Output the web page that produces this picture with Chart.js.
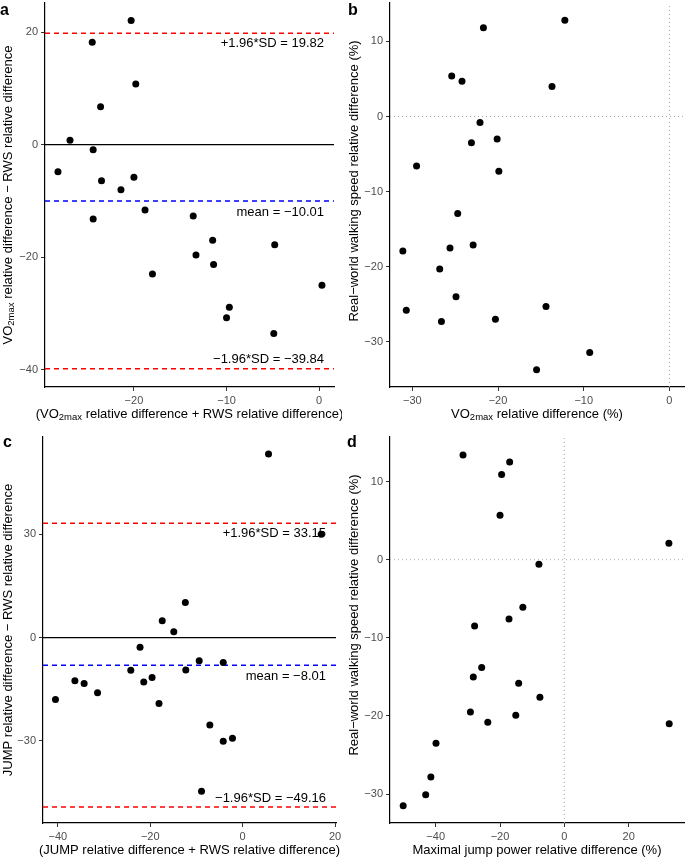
<!DOCTYPE html>
<html>
<head>
<meta charset="utf-8">
<script src="https://cdn.jsdelivr.net/npm/chart.js@4.4.1/dist/chart.umd.min.js"></script>
<style>
  body { margin: 0; background: #fff; width: 685px; height: 860px; position: relative; overflow: hidden; }
  canvas { position: absolute; }
</style>
</head>
<body>
<canvas id="pa" style="left:0;top:0" width="342" height="430"></canvas>
<canvas id="pb" style="left:342px;top:0" width="343" height="430"></canvas>
<canvas id="pc" style="left:0;top:430px" width="342" height="430"></canvas>
<canvas id="pd" style="left:342px;top:430px" width="343" height="430"></canvas>
<script>
// panel a: Bland-Altman, VO2max vs RWS
const aMeanX = [-20.3, -24.5, -19.8, -23.6, -26.9, -24.4, -28.2, -23.5, -20.0, -21.4, -18.8, -24.4, -13.6, -11.5, -4.8, -13.3, -11.4, -18.0, 0.3, -9.7, -10.0, -4.9];
const aDiffY = [22.1, 18.2, 10.8, 6.75, 0.8, -0.9, -4.8, -6.4, -5.8, -8.0, -11.6, -13.2, -12.7, -17.0, -17.8, -19.6, -21.3, -23.0, -25.0, -28.9, -30.8, -33.6];
const aLimits = [19.82, -10.01, -39.84];
const aLimitLabels = ['+1.96*SD = 19.82', 'mean = \u221210.01', '\u22121.96*SD = \u221239.84'];
const aXTicks = [-20, -10, 0];
const aYTicks = [-40, -20, 0, 20];

// panel b: VO2max vs RWS
const bVo2X = [-12.2, -21.7, -25.4, -24.2, -13.7, -22.1, -20.1, -23.1, -29.5, -19.9, -24.7, -22.9, -25.6, -31.1, -26.8, -24.9, -14.4, -30.7, -26.6, -20.3, -9.3, -15.5];
const bRwsY = [12.8, 11.8, 5.4, 4.7, 4.0, -0.8, -3.0, -3.5, -6.6, -7.3, -12.9, -17.1, -17.5, -17.9, -20.3, -24.0, -25.3, -25.8, -27.3, -27.0, -31.4, -33.7];
const bXTicks = [-30, -20, -10, 0];
const bYTicks = [-30, -20, -10, 0, 10];

// panel c: Bland-Altman, JUMP vs RWS
const cMeanX = [5.6, 17.0, -12.4, -17.4, -14.9, -22.2, -9.4, -4.2, -24.2, -12.3, -36.3, -34.3, -21.4, -19.6, -31.4, -40.5, -18.1, -7.1, -4.2, -2.2, -8.9];
const cDiffY = [53.3, 30.0, 10.2, 4.9, 1.7, -2.8, -6.7, -7.2, -9.5, -9.4, -12.5, -13.3, -12.9, -11.6, -16.0, -18.0, -19.1, -25.4, -30.1, -29.2, -44.6];
const cLimits = [33.15, -8.01, -49.16];
const cLimitLabels = ['+1.96*SD = 33.15', 'mean = \u22128.01', '\u22121.96*SD = \u221249.16'];
const cXTicks = [-40, -20, 0, 20];
const cYTicks = [-30, 0, 30];

// panel d: jump power vs RWS
const dJumpX = [-31.5, -17.0, -19.5, -20.0, 32.5, -7.9, -12.9, -17.2, -27.9, -25.7, -28.3, -14.2, -7.6, -29.2, -15.1, -23.8, 32.6, -39.9, -41.5, -43.1, -50.1];
const dRwsY = [13.4, 12.5, 10.9, 5.7, 2.1, -0.6, -6.1, -7.6, -8.5, -13.8, -15.0, -15.8, -17.6, -19.5, -19.9, -20.8, -21.0, -23.5, -27.8, -30.1, -31.5];
const dXTicks = [-40, -20, 0, 20];
const dYTicks = [-30, -20, -10, 0, 10];

const FONT = '"Liberation Sans", Arial, Helvetica, sans-serif';
Chart.defaults.font.family = FONT;

function richText(ctx, parts, cx, cy, rotate) {
  ctx.save();
  ctx.translate(cx, cy);
  if (rotate) ctx.rotate(-Math.PI / 2);
  const big = '13px ' + FONT, small = '9.5px ' + FONT;
  let w = 0;
  parts.forEach(p => { ctx.font = p[1] ? small : big; w += ctx.measureText(p[0]).width; });
  let x = -w / 2;
  ctx.fillStyle = '#000';
  ctx.textAlign = 'left';
  ctx.textBaseline = 'middle';
  parts.forEach(p => {
    ctx.font = p[1] ? small : big;
    ctx.fillText(p[0], x, p[1] ? 3.5 : 0);
    x += ctx.measureText(p[0]).width;
  });
  ctx.restore();
}

function pts(xs, ys) {
  return xs.map((x, i) => ({ x: x, y: ys[i] }));
}

function hline(y, xr, color, dash, width) {
  return {
    data: [{ x: xr[0], y: y }, { x: xr[1], y: y }],
    showLine: true, borderColor: color, borderWidth: width || 1.5,
    borderDash: dash, pointRadius: 0
  };
}

function vline(x, yr, color, dash) {
  return {
    data: [{ x: x, y: yr[0] }, { x: x, y: yr[1] }],
    showLine: true, borderColor: color, borderWidth: 1,
    borderDash: dash, pointRadius: 0
  };
}

function makePanel(id, p) {
  const datasets = [{
    data: pts(p.x, p.y), pointRadius: 3.5, pointBackgroundColor: '#000',
    pointBorderWidth: 0, showLine: false
  }];
  if (p.limits) {
    datasets.push(hline(p.limits[0], p.xRange, '#ff0000', [5, 4]));
    datasets.push(hline(p.limits[1], p.xRange, '#0000ff', [5, 4]));
    datasets.push(hline(p.limits[2], p.xRange, '#ff0000', [5, 4]));
    datasets.push(hline(0, p.xRange, '#000', [], 1.2));
  } else {
    datasets.push(hline(0, p.xRange, '#aaaaaa', [1, 3], 1));
    datasets.push(vline(0, p.yRange, '#aaaaaa', [1, 3]));
  }

  const decor = {
    id: 'decor' + id,
    beforeDatasetsDraw(chart) {
      if (!p.limits) return;
      const ctx = chart.ctx, a = chart.chartArea, ys = chart.scales.y;
      ctx.save();
      ctx.font = '13px ' + FONT;
      ctx.fillStyle = '#000';
      ctx.textAlign = 'right';
      ctx.textBaseline = 'middle';
      const offs = [10, 11, -9];
      p.limits.forEach((v, i) => {
        ctx.fillText(p.limitLabels[i], a.right - 10, ys.getPixelForValue(v) + offs[i]);
      });
      ctx.restore();
    },
    afterDraw(chart) {
      const ctx = chart.ctx, a = chart.chartArea;
      richText(ctx, p.xTitle, (a.left + a.right) / 2, a.bottom + 27, false);
      richText(ctx, p.yTitle, p.yTitleX, (a.top + a.bottom) / 2 + p.yTitleShift, true);
      ctx.save();
      ctx.font = 'bold 16px ' + FONT;
      ctx.fillStyle = '#000';
      ctx.textBaseline = 'alphabetic';
      ctx.fillText(p.letter, p.letterX, p.letterY);
      ctx.restore();
    }
  };

  const tickCb = v => String(v).replace('-', '\u2212');
  const axis = (range, ticks, fit) => ({
    type: 'linear', min: range[0], max: range[1],
    afterBuildTicks: s => { s.ticks = ticks.map(v => ({ value: v })); },
    afterFit: s => {
      fit(s);
      s.paddingTop = 0; s.paddingBottom = 0; s.paddingLeft = 0; s.paddingRight = 0;
    },
    grid: { drawOnChartArea: false, drawTicks: true, tickLength: 4, color: '#333' },
    border: { display: true, color: '#000', width: 1.2 },
    ticks: { color: '#4d4d4d', font: { size: 11 }, padding: 3, callback: tickCb, maxRotation: 0 }
  });

  new Chart(document.getElementById(id), {
    type: 'scatter',
    data: { datasets: datasets },
    options: {
      responsive: false,
      animation: false,
      layout: { autoPadding: false, padding: { left: 0, right: p.padRight, top: p.padTop, bottom: 0 } },
      plugins: { legend: { display: false }, tooltip: { enabled: false } },
      scales: {
        x: axis(p.xRange, p.xTicks, s => { s.height = p.xHeight; }),
        y: axis(p.yRange, p.yTicks, s => { s.width = p.yWidth; })
      }
    },
    plugins: [decor]
  });
}

makePanel('pa', {
  x: aMeanX, y: aDiffY, limits: aLimits, limitLabels: aLimitLabels,
  xRange: [-29.6, 1.6], yRange: [-43.1, 25.2], xTicks: aXTicks, yTicks: aYTicks,
  padRight: 8, padTop: 3, xHeight: 43, yWidth: 45,
  xTitle: [['(VO', 0], ['2max', 1], [' relative difference + RWS relative difference)', 0]],
  yTitle: [['VO', 0], ['2max', 1], [' relative difference \u2212 RWS relative difference', 0]],
  yTitleX: 8, yTitleShift: 0, letter: 'a', letterX: 0, letterY: 15
});

makePanel('pb', {
  x: bVo2X, y: bRwsY,
  xRange: [-32.6, 1.7], yRange: [-36.0, 15.1], xTicks: bXTicks, yTicks: bYTicks,
  padRight: 1, padTop: 3, xHeight: 43, yWidth: 48,
  xTitle: [['VO', 0], ['2max', 1], [' relative difference (%)', 0]],
  yTitle: [['Real\u2212world walking speed relative difference (%)', 0]],
  yTitleX: 12, yTitleShift: -14, letter: 'b', letterX: 6, letterY: 15
});

makePanel('pc', {
  x: cMeanX, y: cDiffY, limits: cLimits, limitLabels: cLimitLabels,
  xRange: [-43.2, 20.2], yRange: [-53.8, 58.2], xTicks: cXTicks, yTicks: cYTicks,
  padRight: 6, padTop: 7, xHeight: 37, yWidth: 43,
  xTitle: [['(JUMP relative difference + RWS relative difference)', 0]],
  yTitle: [['JUMP relative difference \u2212 RWS relative difference', 0]],
  yTitleX: 8, yTitleShift: 0, letter: 'c', letterX: 3, letterY: 17
});

makePanel('pd', {
  x: dJumpX, y: dRwsY,
  xRange: [-54.2, 37.2], yRange: [-33.7, 15.7], xTicks: dXTicks, yTicks: dYTicks,
  padRight: 1, padTop: 7, xHeight: 37, yWidth: 48,
  xTitle: [['Maximal jump power relative difference (%)', 0]],
  yTitle: [['Real\u2212world walking speed relative difference (%)', 0]],
  yTitleX: 12, yTitleShift: -15, letter: 'd', letterX: 5, letterY: 17
});
</script>
</body>
</html>
